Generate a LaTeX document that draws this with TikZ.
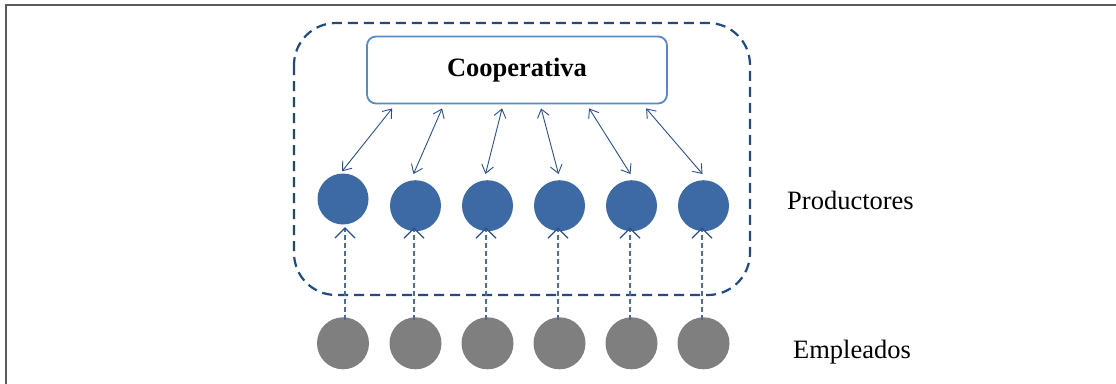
\documentclass[tikz,border=0pt]{standalone}
\usepackage{fontspec}
\setmainfont{Liberation Serif}
\usetikzlibrary{arrows.meta,calc}
\definecolor{prodblue}{HTML}{3D6AA4}
\definecolor{emplgray}{HTML}{7F7F7F}
\definecolor{darkline}{HTML}{1F4A82}
\definecolor{boxline}{HTML}{5A8AC6}
\definecolor{linkblue}{HTML}{2B4F8C}
\definecolor{dashblue}{HTML}{4A6C9E}
\definecolor{framegray}{HTML}{5A5A5A}
\tikzset{
  prod/.style={circle, fill=prodblue, minimum size=51pt, inner sep=0pt},
  empl/.style={circle, fill=emplgray, minimum size=52pt, inner sep=0pt},
  coopbox/.style={draw=boxline, line width=1.8pt, rounded corners=9pt, fill=white,
    minimum width=300pt, minimum height=67pt, inner sep=0pt},
  group/.style={draw=darkline, line width=2.2pt, dash pattern=on 10pt off 6pt, rounded corners=42pt},
  link/.style={draw=linkblue, line width=0.9pt,
    {Straight Barb[length=8pt,width=12pt]}-{Straight Barb[length=8pt,width=12pt]}},
  feed/.style={draw=dashblue, line width=1.1pt, dash pattern=on 5pt off 3pt,
    -{Straight Barb[length=10pt,width=20pt,color=linkblue,line width=1.2pt]}},
  lbl/.style={font=\fontsize{26.5}{30}\selectfont},
}
\begin{document}
\begin{tikzpicture}[x=1pt,y=-1pt]
\useasboundingbox (0,0) rectangle (1116,383);
% outer frame (only top and left edges fall inside the page)
\draw[framegray, line width=1.6pt] (6,400) -- (6,5) -- (1130,5);

% dashed group around the cooperative and its producers
\draw[group] (294,23) rectangle (750,295);

% cooperative
\node[coopbox] (coop) at (517,70) {\fontsize{26.5}{30}\selectfont\bfseries Cooperativa};

% producers
\node[prod] (p1) at (343,199) {};
\node[prod] (p2) at (415.5,205.7) {};
\node[prod] (p3) at (487.5,205.7) {};
\node[prod] (p4) at (559.5,205.7) {};
\node[prod] (p5) at (631.5,205.7) {};
\node[prod] (p6) at (703.5,205.7) {};

% employees
\node[empl] (e1) at (343,343.3) {};
\node[empl] (e2) at (415.5,343.3) {};
\node[empl] (e3) at (487.5,343.3) {};
\node[empl] (e4) at (559.5,343.3) {};
\node[empl] (e5) at (631.5,343.3) {};
\node[empl] (e6) at (703.5,343.3) {};

% labels
\node[lbl] (lp) at (850.5,200) {Productores};
\node[lbl] (le) at (852,352) {Empleados};

% two-way links between the cooperative and each producer
\draw[link] ($(coop.south west)+(26,4)$) -- ($(p1.north)+(-1,-2)$);
\draw[link] ($(coop.south west)+(76,4)$) -- ($(p2.north)+(-2,-6)$);
\draw[link] ($(coop.south west)+(136,4)$) -- ($(p3.north)+(-2,-6)$);
\draw[link] ($(coop.south west)+(175,4)$) -- ($(p4.north)+(-1,-6)$);
\draw[link] ($(coop.south west)+(223,4)$) -- ($(p5.north)+(-1,-6)$);
\draw[link] ($(coop.south west)+(280,4)$) -- ($(p6.north)+(-1,-6)$);

% employees feeding into producers
\draw[feed] ($(e1.north)+(2,3)$) -- ($(p1.south)+(2,2.5)$);
\draw[feed] ($(e2.north)+(-1.5,3)$) -- ($(p2.south)+(-1.5,-4)$);
\draw[feed] ($(e3.north)+(-1.5,3)$) -- ($(p3.south)+(-1.5,-4)$);
\draw[feed] ($(e4.north)+(-1.5,3)$) -- ($(p4.south)+(-1.5,-4)$);
\draw[feed] ($(e5.north)+(-1.5,3)$) -- ($(p5.south)+(-1.5,-4)$);
\draw[feed] ($(e6.north)+(-1.5,3)$) -- ($(p6.south)+(-1.5,-4)$);
\end{tikzpicture}
\end{document}
